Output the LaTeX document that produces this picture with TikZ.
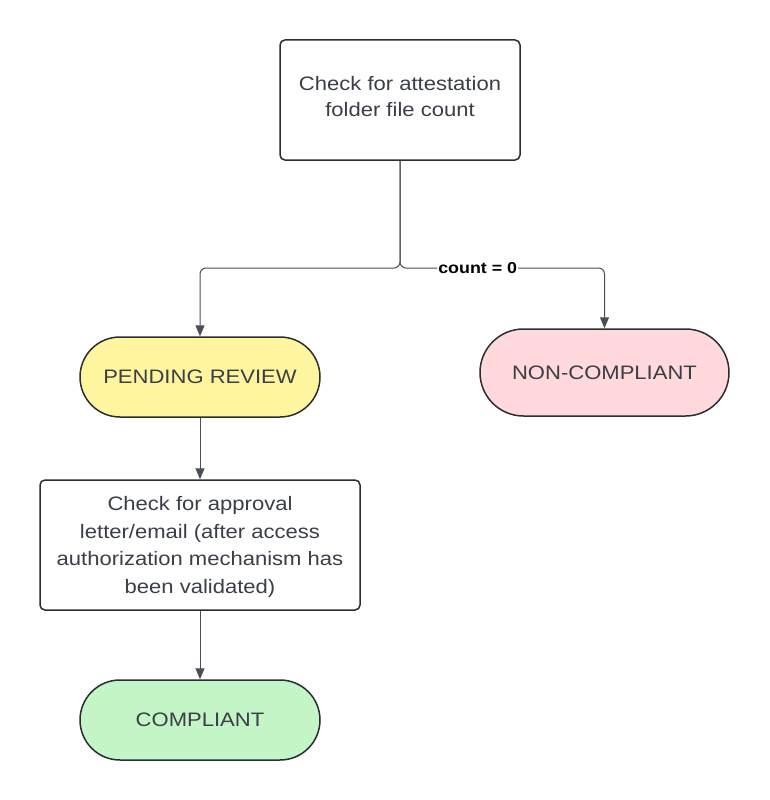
\documentclass[tikz,border=0pt]{standalone}
\usepackage{fontspec}
\setmainfont{Liberation Sans}[FakeStretch=1.13]
\usepackage{tikz}
\usetikzlibrary{positioning}
\usetikzlibrary{shapes.misc}
\usetikzlibrary{arrows.meta}
\definecolor{inkgray}{HTML}{3A3F47}
\definecolor{linegray}{HTML}{4A4F57}
\definecolor{edgegray}{HTML}{2B2D30}
\definecolor{pendfill}{HTML}{FFF59F}
\definecolor{nonfill}{HTML}{FFD9DC}
\definecolor{okfill}{HTML}{C3F5C6}
\tikzset{mybox/.style={draw=edgegray, line width=1.5pt, rounded corners=5pt, fill=white, text=inkgray, align=center, inner sep=0pt, font=\fontsize{19.5}{27.7}\selectfont}}
\tikzset{myboxPill/.style={rounded rectangle, draw=edgegray, line width=1.5pt, text=inkgray, minimum width=240pt, minimum height=80pt, inner sep=0pt, font=\fontsize{19.5}{27}\selectfont}}
\tikzset{myboxPend/.style={myboxPill, fill=pendfill}}
\tikzset{myboxNon/.style={myboxPill, fill=nonfill, minimum width=249pt, minimum height=87pt}}
\tikzset{myboxOk/.style={myboxPill, fill=okfill}}
\tikzset{mylink/.style={draw=linegray, line width=1pt, rounded corners=6pt, -{Triangle[length=11pt,width=9pt]}}}
\begin{document}
\begin{tikzpicture}[x=1pt, y=-1pt]

\useasboundingbox (0,0) rectangle (769,800);

\node[mybox, minimum width=240pt, minimum height=120pt, font=\fontsize{19.5}{26}\selectfont, text depth=7pt] (count) at (400, 100) {Check for attestation\\folder file count};

\node[myboxPend] (pending) at (200, 377) {PENDING REVIEW};
\node[myboxNon] (noncomp) at (604.5, 372.5) {NON-COMPLIANT};

\node[mybox, minimum width=320pt, minimum height=130pt, text depth=0pt] (approval) at (200, 545) {Check for approval\\letter/email (after access\\authorization mechanism has\\been validated)};

\node[myboxOk] (compliant) at (200, 720) {COMPLIANT};

\coordinate (split) at (400, 268);

\draw[mylink] (count.south) -- (split) -| (pending.north);
\draw[mylink] (count.south) -- (split) -| node[pos=0.19, fill=white, inner sep=1pt, text=black, font=\bfseries\fontsize{15.8}{18}\selectfont] {count = 0} (noncomp.north);
\draw[mylink] (pending.south) -- (approval.north);
\draw[mylink] (approval.south) -- (compliant.north);

\end{tikzpicture}
\end{document}
